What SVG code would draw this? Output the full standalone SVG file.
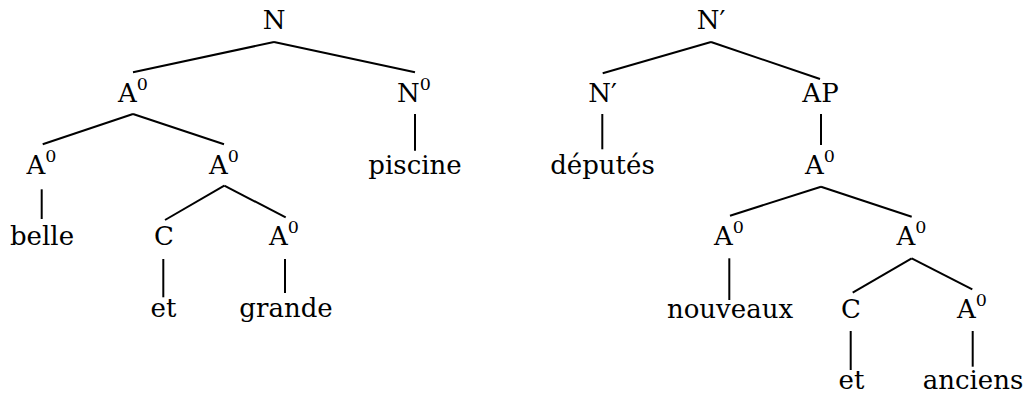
<svg xmlns="http://www.w3.org/2000/svg" width="1028" height="396" viewBox="0 0 1028 396">
<style>
text{font-family:"DejaVu Serif","Liberation Serif",serif;font-size:26px;fill:#000;text-anchor:middle}
.s{font-size:17.5px}
#connectors line{stroke:#000;stroke-width:2;stroke-linecap:butt}
</style>
<rect width="1028" height="396" fill="#fff"/>
<g id="connectors">
<line x1="274" y1="42" x2="133" y2="72.3"/>
<line x1="274" y1="42" x2="415" y2="72.3"/>
<line x1="133" y1="114" x2="42.7" y2="144.3"/>
<line x1="133" y1="114" x2="224" y2="144.3"/>
<line x1="415" y1="114" x2="415" y2="150.7"/>
<line x1="41.7" y1="189.3" x2="41.7" y2="219"/>
<line x1="224.3" y1="185.7" x2="165" y2="220"/>
<line x1="224.3" y1="185.7" x2="285.7" y2="217.3"/>
<line x1="163.3" y1="259" x2="163.3" y2="297.3"/>
<line x1="285" y1="259" x2="285" y2="293"/>
<line x1="711" y1="42" x2="602.7" y2="73.3"/>
<line x1="711" y1="42" x2="820" y2="79"/>
<line x1="602.3" y1="114" x2="602.3" y2="149.3"/>
<line x1="821" y1="114" x2="821" y2="145"/>
<line x1="821" y1="186.7" x2="730" y2="215.7"/>
<line x1="821" y1="186.7" x2="911.7" y2="216.7"/>
<line x1="729.3" y1="258.3" x2="729.3" y2="300"/>
<line x1="911.7" y1="258.3" x2="852.7" y2="292.7"/>
<line x1="911.7" y1="258.3" x2="972.3" y2="289.3"/>
<line x1="850.7" y1="331" x2="850.7" y2="370"/>
<line x1="972.7" y1="331" x2="972.7" y2="366.7"/>
</g>
<g id="n1"><text x="274" y="29">N</text></g>
<g id="n2"><text x="133" y="102">A<tspan class="s" dy="-12">0</tspan></text></g>
<g id="n3"><text x="414" y="102">N<tspan class="s" dy="-12">0</tspan></text></g>
<g id="n4"><text x="41.5" y="174">A<tspan class="s" dy="-12">0</tspan></text></g>
<g id="n5"><text x="224" y="174">A<tspan class="s" dy="-12">0</tspan></text></g>
<g id="n6"><text x="415" y="174">piscine</text></g>
<g id="n7"><text x="42" y="245">belle</text></g>
<g id="n8"><text x="164" y="245">C</text></g>
<g id="n9"><text x="284" y="245">A<tspan class="s" dy="-12">0</tspan></text></g>
<g id="n10"><text x="163.5" y="317">et</text></g>
<g id="n11"><text x="286" y="317">grande</text></g>
<g id="m1"><text x="711" y="29">N′</text></g>
<g id="m2"><text x="602.5" y="102">N′</text></g>
<g id="m3"><text x="820.5" y="102">AP</text></g>
<g id="m4"><text x="602.5" y="174">députés</text></g>
<g id="m5"><text x="820" y="174">A<tspan class="s" dy="-12">0</tspan></text></g>
<g id="m6"><text x="729" y="245">A<tspan class="s" dy="-12">0</tspan></text></g>
<g id="m7"><text x="911.5" y="245">A<tspan class="s" dy="-12">0</tspan></text></g>
<g id="m8"><text x="730" y="318">nouveaux</text></g>
<g id="m9"><text x="851" y="318">C</text></g>
<g id="m10"><text x="972" y="318">A<tspan class="s" dy="-12">0</tspan></text></g>
<g id="m11"><text x="851.5" y="389">et</text></g>
<g id="m12"><text x="973" y="389">anciens</text></g>
</svg>
